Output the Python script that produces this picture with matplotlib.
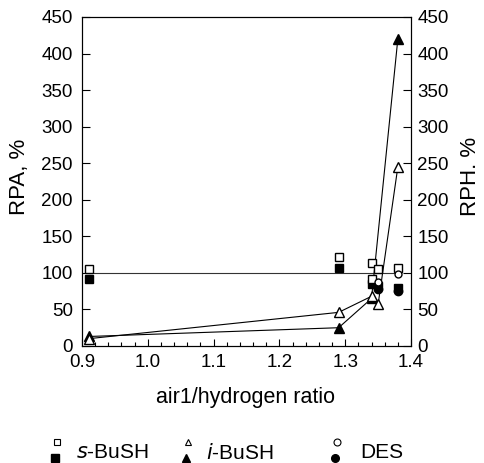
import numpy as np
import matplotlib
matplotlib.use('Agg')
import matplotlib.pyplot as plt
from matplotlib.lines import Line2D

plt.rcParams['font.family'] = ['Liberation Sans', 'DejaVu Sans']

## dane
s_open_x = [0.91, 1.29, 1.34, 1.35, 1.34, 1.38]
s_open_y = [105, 122, 114, 105, 92, 107]
s_fill_x = [0.91, 1.29, 1.34, 1.35, 1.38]
s_fill_y = [92, 107, 85, 82, 80]

i_open_x = [0.91, 1.29, 1.34, 1.35, 1.38]
i_open_y = [10, 46, 68, 57, 245]
i_fill_x = [0.91, 1.29, 1.34, 1.38]
i_fill_y = [13, 25, 65, 420]

d_open_x = [1.35, 1.38]
d_open_y = [88, 98]
d_fill_x = [1.35, 1.38]
d_fill_y = [78, 75]

ref_x = [0.91, 1.38]
ref_y = [100, 100]

legend_names = ['$s$-BuSH', '$i$-BuSH', 'DES']

fig = plt.figure(figsize=(4.84, 4.63), dpi=100)
ax = fig.add_axes([0.1694, 0.2527, 0.6798, 0.7106])

lw = 0.8
ax.plot(ref_x, ref_y, color='#333333', lw=lw, zorder=1)
ax.plot(i_open_x, i_open_y, color='black', lw=lw, zorder=2)
ax.plot(i_fill_x, i_fill_y, color='black', lw=lw, zorder=2)

ms = 6
ax.plot(s_fill_x, s_fill_y, 's', ms=ms, mfc='black', mec='black', ls='none', zorder=3)
ax.plot(d_fill_x, d_fill_y, 'o', ms=ms, mfc='black', mec='black', ls='none', zorder=3)
ax.plot(i_fill_x, i_fill_y, '^', ms=ms + 1, mfc='black', mec='black', ls='none', zorder=3)
ax.plot(s_open_x, s_open_y, 's', ms=ms, mfc='white', mec='black', mew=1, ls='none', zorder=4)
ax.plot(d_open_x, d_open_y, 'o', ms=ms - 1, mfc='white', mec='black', mew=1, ls='none', zorder=4)
ax.plot(i_open_x, i_open_y, '^', ms=ms + 1, mfc='white', mec='black', mew=1, ls='none', zorder=4)

ax.set_xlim(0.9, 1.4)
ax.set_ylim(0, 450)
ax.set_xticks(np.arange(0.9, 1.41, 0.1))
ax.set_xticks(np.arange(0.9, 1.401, 0.02), minor=True)
ax.set_xticklabels(['0.9', '1.0', '1.1', '1.2', '1.3', '1.4'])
ax.set_yticks(np.arange(0, 451, 50))
ax.tick_params(axis='x', which='major', direction='in', length=5, width=0.8, labelsize=13.5, pad=6)
ax.tick_params(axis='x', which='minor', direction='in', length=3, width=0.8)
ax.tick_params(axis='y', direction='in', length=6, width=0.8, labelsize=13.5, pad=6.5)

ax2 = ax.twinx()
ax2.set_ylim(0, 450)
ax2.set_yticks(np.arange(0, 451, 50))
ax2.tick_params(axis='y', direction='in', length=6, width=0.8, labelsize=13.5, pad=4.5)

for a in (ax, ax2):
    for sp in a.spines.values():
        sp.set_linewidth(0.8)

fig.text(0.508, 0.1425, 'air1/hydrogen ratio', fontsize=15.5, ha='center', va='center')
fig.text(0.041, 0.618, 'RPA, %', rotation=90, fontsize=16, ha='center', va='center')
fig.text(0.972, 0.618, 'RPH. %', rotation=90, fontsize=16, ha='center', va='center')

## legenda na dole
leg_x = [57, 188, 337]
leg_tx = [76, 206, 360]
for lx, tx, m, name in zip(leg_x, leg_tx, ['s', '^', 'o'], legend_names):
    fig.add_artist(Line2D([lx / 484], [1 - 442 / 463], marker=m, ms=5, mfc='white', mec='black',
                          mew=0.8, ls='none', transform=fig.transFigure))
    fig.add_artist(Line2D([(lx - 2) / 484], [1 - 458 / 463], marker=m, ms=5.5, mfc='black',
                          mec='black', ls='none', transform=fig.transFigure))
    fig.text(tx / 484, 1 - 453 / 463, name, fontsize=15, ha='left', va='center')

fig.savefig('out.png', dpi=100)
